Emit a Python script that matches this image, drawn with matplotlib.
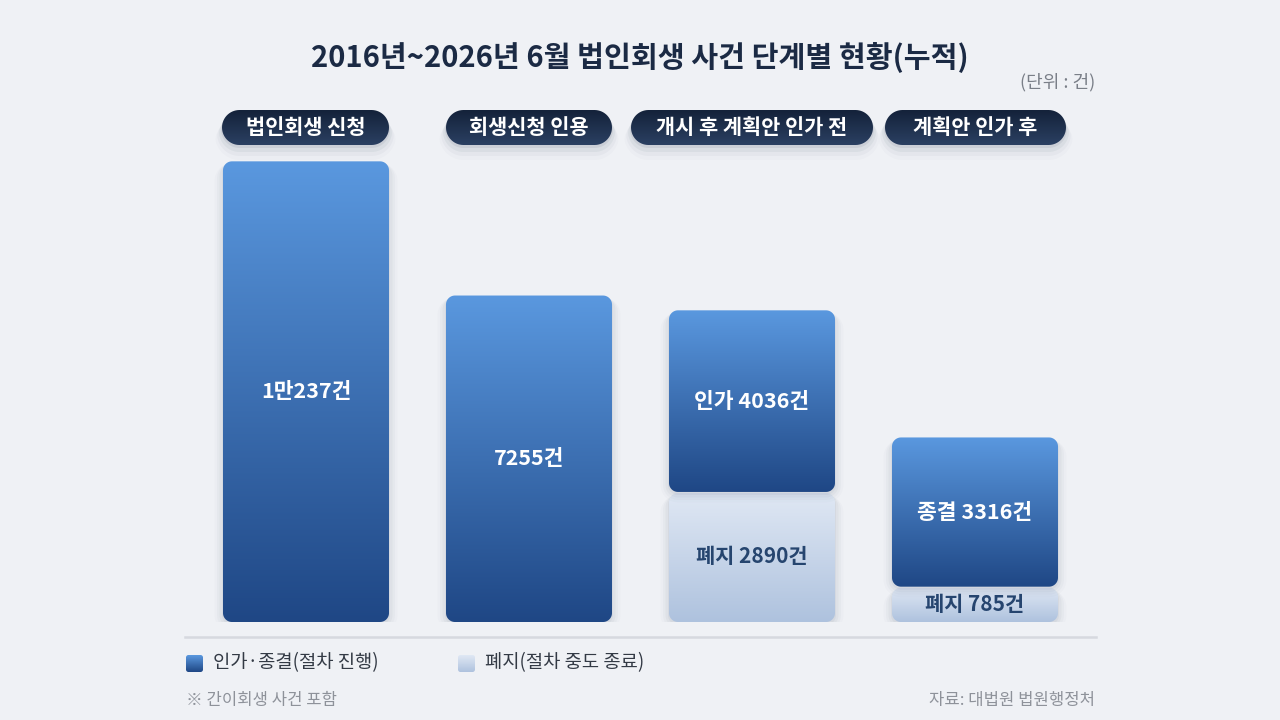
import numpy as np
import matplotlib.pyplot as plt
from matplotlib.patches import PathPatch
from matplotlib.path import Path
from matplotlib.colors import LinearSegmentedColormap

plt.rcParams['font.family'] = ['Noto Sans CJK KR', 'DejaVu Sans']

# data
stages = ['법인회생 신청', '회생신청 인용', '개시 후 계획안 인가 전', '계획안 인가 후']
progress = [10237, 7255, 4036, 3316]   # 인가·종결 (dark)
dropped = [0, 0, 2890, 785]            # 폐지 (light)
progress_labels = ['1만237건', '7255건', '인가 4036건', '종결 3316건']
dropped_labels = ['', '', '폐지 2890건', '폐지 785건']

bg = '#EFF1F5'
dark_cmap = LinearSegmentedColormap.from_list('dark', ['#1F4785', '#5A98DF'])
light_cmap = LinearSegmentedColormap.from_list('light', ['#AEC2DE', '#E0E8F4'])
pill_cmap = LinearSegmentedColormap.from_list('pill', ['#14223A', '#2B4062'])


def round_rect(x0, y0, w, h, rx, ry):
    # rounded rectangle path with true elliptical corners
    verts = []
    corners = [(x0 + w - rx, y0 + h - ry, 0, 90), (x0 + rx, y0 + h - ry, 90, 180),
               (x0 + rx, y0 + ry, 180, 270), (x0 + w - rx, y0 + ry, 270, 360)]
    for cx, cy, a0, a1 in corners:
        t = np.radians(np.linspace(a0, a1, 16))
        verts += list(zip(cx + rx * np.cos(t), cy + ry * np.sin(t)))
    verts.append(verts[0])
    codes = [Path.MOVETO] + [Path.LINETO] * (len(verts) - 2) + [Path.CLOSEPOLY]
    return Path(verts, codes)


fig = plt.figure(figsize=(12.8, 7.2), dpi=100, facecolor=bg)

# main bar axes: x 185..1096 px, bottom at 622 px
ax_l, ax_r, ax_b = 185, 1096, 622
ymax = 10500
px_per_unit = 0.045
ax_t = ax_b - ymax * px_per_unit
ax = fig.add_axes([ax_l / 1280, (720 - ax_b) / 720, (ax_r - ax_l) / 1280, (ax_b - ax_t) / 720])
ax.set_facecolor('none')
ax.axis('off')

xpx = 223.0            # px per x unit
ypx = px_per_unit      # px per y unit
width = 166 / xpx
gap = 1.0 / ypx


def rounded_bar(x0, y0, w, h, cmap, zorder=3):
    r = 9
    # soft shadow
    for i, a in enumerate([0.045, 0.035, 0.025, 0.015]):
        grow = 1 + i * 2.5
        sp = round_rect(x0 - grow / xpx, y0 - (3 + i * 2.5) / ypx, w + 2 * grow / xpx, h + grow / ypx,
                        (r + grow) / xpx, (r + grow) / ypx)
        ax.add_patch(PathPatch(sp, fc='#1a2a45', ec='none', alpha=a, zorder=zorder - 1))
    patch = PathPatch(round_rect(x0, y0, w, h, r / xpx, r / ypx), fc='none', ec='none', zorder=zorder)
    ax.add_patch(patch)
    grad = np.linspace(0, 1, 256).reshape(-1, 1)
    im = ax.imshow(grad, cmap=cmap, origin='lower', aspect='auto',
                   extent=(x0, x0 + w, y0, y0 + h), zorder=zorder, interpolation='bilinear')
    im.set_clip_path(patch)


for i in range(len(stages)):
    x0 = i - width / 2
    if dropped[i] > 0:
        rounded_bar(x0, 0, width, dropped[i] - gap, light_cmap)
        ax.text(i, dropped[i] / 2, dropped_labels[i], ha='center', va='center',
                fontsize=15, fontweight='bold', color='#26456F', zorder=5)
    rounded_bar(x0, dropped[i], width, progress[i], dark_cmap, zorder=4)
    ax.text(i, dropped[i] + progress[i] / 2, progress_labels[i], ha='center', va='center',
            fontsize=15.5, fontweight='bold', color='white', zorder=6)

ax.set_xlim(-0.5426, 3.5426)
ax.set_ylim(0, ymax)

# overlay axes in pixel coords for header pills, title, legend
ov = fig.add_axes([0, 0, 1, 1])
ov.set_facecolor('none')
ov.axis('off')

pill_bounds = [(222, 389), (446, 612), (631, 873), (885, 1066)]
for (l, r), name in zip(pill_bounds, stages):
    for k, a in enumerate([0.07, 0.05, 0.03, 0.015]):
        g = 1 + k * 2
        sp = round_rect(l - g, 110 + 2 + k * 2, r - l + 2 * g, 35 + g, 17.5 + g, 17.5 + g)
        ov.add_patch(PathPatch(sp, fc='#1a2a45', ec='none', alpha=a, zorder=1))
    p = PathPatch(round_rect(l, 110, r - l, 35, 17.5, 17.5), fc='none', ec='none', zorder=2)
    ov.add_patch(p)
    g = np.linspace(0, 1, 64).reshape(-1, 1)
    im = ov.imshow(g, cmap=pill_cmap, origin='upper', aspect='auto',
                   extent=(l, r, 145, 110), zorder=2)
    im.set_clip_path(p)
    ov.text((l + r) / 2, 127.5, name, ha='center', va='center', fontsize=15,
            fontweight='bold', color='white', zorder=3)

ov.text(640, 58, '2016년~2026년 6월 법인회생 사건 단계별 현황(누적)', ha='center', va='center',
        fontsize=21, fontweight='bold', color='#1B2A44')
ov.text(1095, 82, '(단위 : 건)', ha='right', va='center', fontsize=13, color='#7A7F88')

ov.plot([185, 1096], [637, 637], color='#D6D9DF', lw=1.8, zorder=1)

# legend
for lx, cmap, label in [(186, dark_cmap, '인가·종결(절차 진행)'), (458, light_cmap, '폐지(절차 중도 종료)')]:
    sq = PathPatch(round_rect(lx, 655, 17, 17, 2.5, 2.5), fc='none', ec='none', zorder=2)
    ov.add_patch(sq)
    g = np.linspace(0, 1, 64).reshape(-1, 1)
    im = ov.imshow(g, cmap=cmap, origin='lower', aspect='auto',
                   extent=(lx, lx + 17, 672, 655), zorder=2)
    im.set_clip_path(sq)
    ov.text(lx + 27, 663, label, ha='left', va='center', fontsize=13.5, color='#333A45')

ov.text(186, 700, '※ 간이회생 사건 포함', ha='left', va='center', fontsize=12, color='#8E929A')
ov.text(1095, 700, '자료: 대법원 법원행정처', ha='right', va='center', fontsize=12, color='#8E929A')

ov.set_xlim(0, 1280)
ov.set_ylim(720, 0)

fig.savefig('out.png', dpi=100, facecolor=bg)
